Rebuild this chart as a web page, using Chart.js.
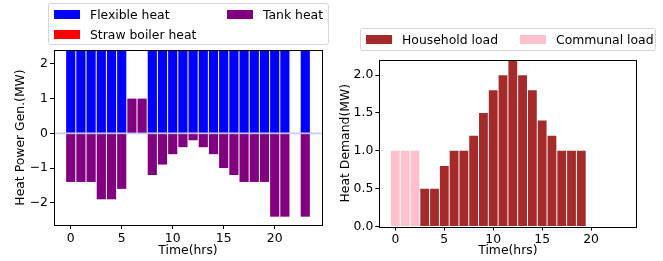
<!DOCTYPE html>
<html>
<head>
<meta charset="utf-8">
<script src="https://cdn.jsdelivr.net/npm/chart.js@4.4.1/dist/chart.umd.min.js"></script>
<style>
  body { margin: 0; background: #fff; font-family: "DejaVu Sans", sans-serif; }
  #wrap { position: relative; width: 663px; height: 261px; overflow: hidden; }
  .pane { position: absolute; top: 0; height: 261px; }
  .legend {
    position: absolute; background: rgba(255,255,255,0.8);
    border: 1px solid #d6d6d6; border-radius: 3px; box-sizing: border-box;
    font-size: 12.4px; color: #000; display: grid;
  }
  .item { display: flex; align-items: center; height: 19px; }
  .sw { width: 26px; height: 9px; margin-right: 10px; flex: none; }
</style>
</head>
<body>
<div id="wrap">
  <div class="pane" style="left:0;width:330px"><canvas id="genChart" width="330" height="261"></canvas></div>
  <div class="pane" style="left:330px;width:333px"><canvas id="demandChart" width="333" height="261"></canvas></div>
  <div id="genLegend" class="legend" style="left:48px;top:3px;width:281px;height:42px;padding:1px 0 0 5px;grid-template-columns:173px auto;"></div>
  <div id="demandLegend" class="legend" style="left:360px;top:28px;width:296px;height:23px;padding:1px 0 0 5px;grid-template-columns:154px auto;"></div>
</div>
<script>
const hours = [0,1,2,3,4,5,6,7,8,9,10,11,12,13,14,15,16,17,18,19,20,21,22,23];

// left chart: heat generation (MW)
const flexibleHeat = [3,3,3,3,3,3,0,0,3,3,3,3,3,3,3,3,3,3,3,3,3,3,0,3];
const strawBoilerHeat = [0,0,0,0,0,0,0,0,0,0,0,0,0,0,0,0,0,0,0,0,0,0,0,0];
const tankHeat = [-1.4,-1.4,-1.4,-1.9,-1.9,-1.6,1,1,-1.2,-0.9,-0.6,-0.4,-0.2,-0.4,-0.6,-1.0,-1.2,-1.4,-1.4,-1.4,-2.4,-2.4,0,-2.4];

// right chart: heat demand (MW)
const householdLoad = [0,0,0,0.5,0.5,0.8,1.0,1.0,1.2,1.5,1.8,2.0,2.2,2.0,1.8,1.4,1.2,1.0,1.0,1.0,0,0,0,0];
const communalLoad = [1,1,1,0,0,0,0,0,0,0,0,0,0,0,0,0,0,0,0,0,0,0,0,0];

const xTicks = [0, 5, 10, 15, 20];
const genTicks = [-2, -1, 0, 1, 2];
const demandTicks = [0, 0.5, 1.0, 1.5, 2.0];

const FONT = { family: "DejaVu Sans", size: 12.4 };
const pts = (vals) => vals.map((v, i) => ({ x: hours[i], y: v }));

// full box around the plot like matplotlib spines
const spines = {
  id: "spines",
  afterDraw(chart) {
    const { ctx, chartArea: a } = chart;
    ctx.save();
    ctx.strokeStyle = "#000";
    ctx.lineWidth = 1;
    ctx.strokeRect(Math.round(a.left) + 0.5, Math.round(a.top) + 0.5,
      Math.round(a.right - a.left), Math.round(a.bottom - a.top));
    ctx.restore();
  }
};

const zeroLine = {
  id: "zeroLine",
  afterDatasetsDraw(chart) {
    const { ctx, chartArea: a, scales } = chart;
    const y = scales.y.getPixelForValue(0);
    ctx.save();
    ctx.beginPath();
    ctx.rect(a.left, a.top, a.right - a.left, a.bottom - a.top);
    ctx.clip();
    ctx.strokeStyle = "rgba(180,180,255,0.7)";
    ctx.lineWidth = 1.6;
    ctx.beginPath();
    ctx.moveTo(a.left, y);
    ctx.lineTo(a.right, y);
    ctx.stroke();
    ctx.restore();
  }
};

function xScale(height) {
  return {
    type: "linear",
    offset: false,
    min: -1.64, max: 24.64,
    afterBuildTicks: (s) => { s.ticks = xTicks.map(v => ({ value: v })); },
    afterFit: (s) => { s.height = height; },
    ticks: { font: FONT, color: "#000", padding: 2, maxRotation: 0 },
    grid: { drawOnChartArea: false, drawTicks: true, tickLength: 4, color: "#000", offset: false },
    border: { display: false },
    title: { display: true, text: "Time(hrs)", font: FONT, color: "#000", padding: { top: 0, bottom: 3 } }
  };
}

function yScale(min, max, tickVals, width, label, titlePad, fmt) {
  return {
    min, max,
    afterBuildTicks: (s) => { s.ticks = tickVals.map(v => ({ value: v })); },
    afterFit: (s) => { s.width = width; },
    ticks: { font: FONT, color: "#000", padding: 2, callback: fmt },
    grid: { drawOnChartArea: false, drawTicks: true, tickLength: 4, color: "#000" },
    border: { display: false },
    title: { display: true, text: label, font: FONT, color: "#000", padding: { top: titlePad, bottom: 0 } }
  };
}

const barDefaults = { grouped: false, barPercentage: 0.9, categoryPercentage: 1.0, borderWidth: 0 };

const genChart = new Chart(document.getElementById("genChart"), {
  type: "bar",
  data: {
    datasets: [
      { label: "Flexible heat", data: pts(flexibleHeat), backgroundColor: "#0000ff", ...barDefaults },
      { label: "Straw boiler heat", data: pts(strawBoilerHeat), backgroundColor: "#ff0000", ...barDefaults },
      { label: "Tank heat", data: pts(tankHeat), backgroundColor: "#800080", ...barDefaults }
    ]
  },
  options: {
    responsive: false, animation: false,
    layout: { padding: { left: 0, right: 8, top: 50, bottom: 0 } },
    plugins: { legend: { display: false }, tooltip: { enabled: false } },
    scales: {
      x: xScale(36),
      y: yScale(-2.64, 2.4, genTicks, 54, "Heat Power Gen.(MW)", 13,
        (v) => String(v).replace("-", "\u2212"))
    }
  },
  plugins: [zeroLine, spines]
});

const demandChart = new Chart(document.getElementById("demandChart"), {
  type: "bar",
  data: {
    datasets: [
      { label: "Household load", data: pts(householdLoad), backgroundColor: "#a52a2a", ...barDefaults },
      { label: "Communal load", data: pts(communalLoad), backgroundColor: "#ffc0cb", ...barDefaults }
    ]
  },
  options: {
    responsive: false, animation: false,
    layout: { padding: { left: 0, right: 333 - 306.5, top: 60, bottom: 0 } },
    plugins: { legend: { display: false }, tooltip: { enabled: false } },
    scales: {
      x: xScale(34.5),
      y: yScale(0, 2.2, demandTicks, 49.3, "Heat Demand(MW)", 8.5, (v) => v.toFixed(1))
    }
  },
  plugins: [spines]
});

// matplotlib-style legends, column-major for the left one
function buildLegend(el, chart, order) {
  order.forEach((i) => {
    const ds = chart.data.datasets[i];
    const item = document.createElement("div");
    item.className = "item";
    const sw = document.createElement("span");
    sw.className = "sw";
    sw.style.background = ds.backgroundColor;
    const tx = document.createElement("span");
    tx.textContent = ds.label;
    item.appendChild(sw);
    item.appendChild(tx);
    el.appendChild(item);
  });
}
buildLegend(document.getElementById("genLegend"), genChart, [0, 2, 1]);
buildLegend(document.getElementById("demandLegend"), demandChart, [0, 1]);
</script>
</body>
</html>
